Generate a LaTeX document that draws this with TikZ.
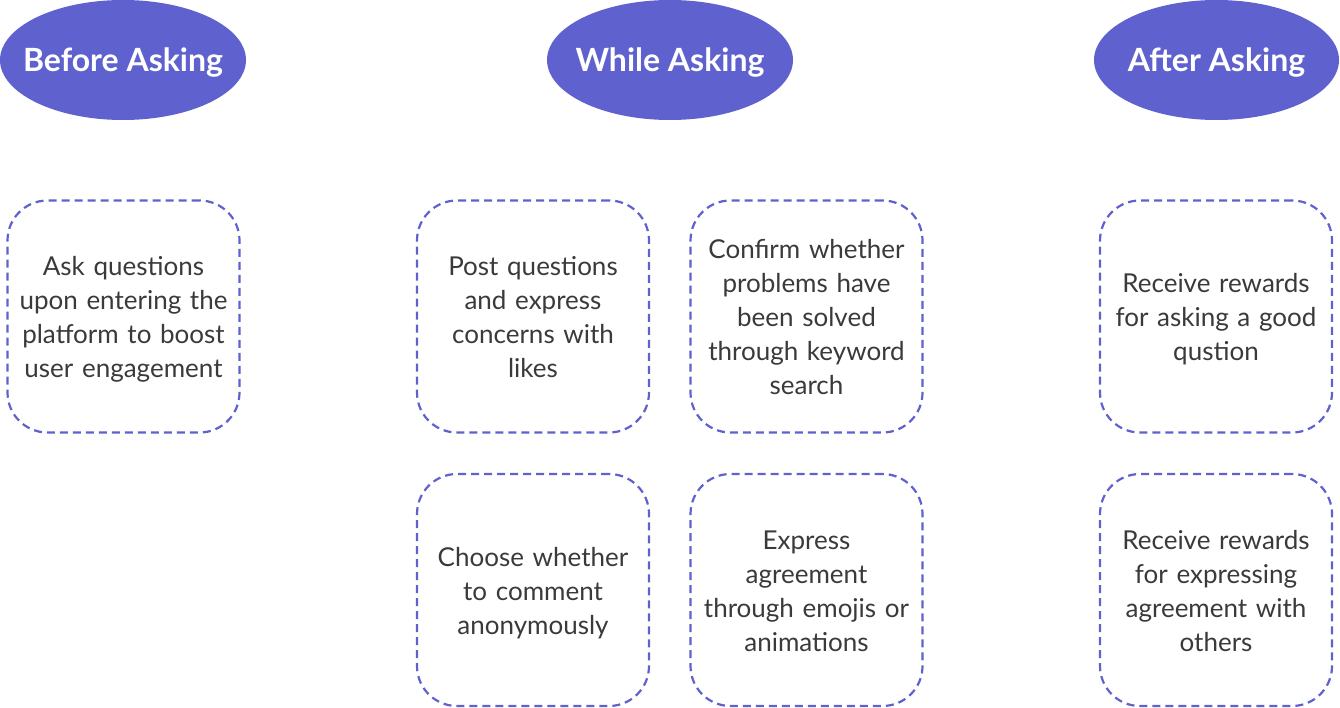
\documentclass[tikz,border=0pt]{standalone}
\usepackage{fontspec}
\setmainfont{Lato}
\usetikzlibrary{shapes.geometric}
\definecolor{accent}{HTML}{5F62CE}
\definecolor{txt}{HTML}{3A3A3A}
\begin{document}
\begin{tikzpicture}[x=1pt,y=-1pt,
  phase/.style={fill=none, draw=none, inner sep=0pt, text=white, font=\fontsize{32}{38}\selectfont\bfseries},
  item/.style={draw=accent, line width=2.2pt, dash pattern=on 8pt off 5pt, rounded corners=40pt, minimum width=232pt, minimum height=232pt, inner sep=0pt, text=txt, align=center, text width=226pt, font=\fontsize{26}{34}\selectfont, execute at begin node={\rule{0pt}{30pt}}, execute at end node={\rule[-10pt]{0pt}{10pt}}}]
\useasboundingbox (0,0) rectangle (1340,708);
\fill[accent] (123,60) ellipse (123pt and 60pt);
\fill[accent] (670,60) ellipse (123pt and 60pt);
\fill[accent] (1216.5,60) ellipse (122.5pt and 60pt);
\node[phase] (p1) at (123,63) {Before Asking};
\node[phase] (p2) at (670,63) {While Asking};
\node[phase] (p3) at (1216.5,63) {After Asking};
\node[item] (a1) at (123.5,316.5) {Ask questions\\upon entering the\\platform to boost\\user engagement};
\node[item] (b1) at (533,316.5) {Post questions\\and express\\concerns with\\likes};
\node[item] (b2) at (806.5,316.5) {Confirm whether\\problems have\\been solved\\through keyword\\search};
\node[item] (b3) at (533,590) {Choose whether\\to comment\\anonymously};
\node[item] (b4) at (806.5,590) {Express\\agreement\\through emojis or\\animations};
\node[item] (c1) at (1216,316.5) {Receive rewards\\for asking a good\\qustion};
\node[item] (c2) at (1216,590) {Receive rewards\\for expressing\\agreement with\\others};
\end{tikzpicture}
\end{document}
